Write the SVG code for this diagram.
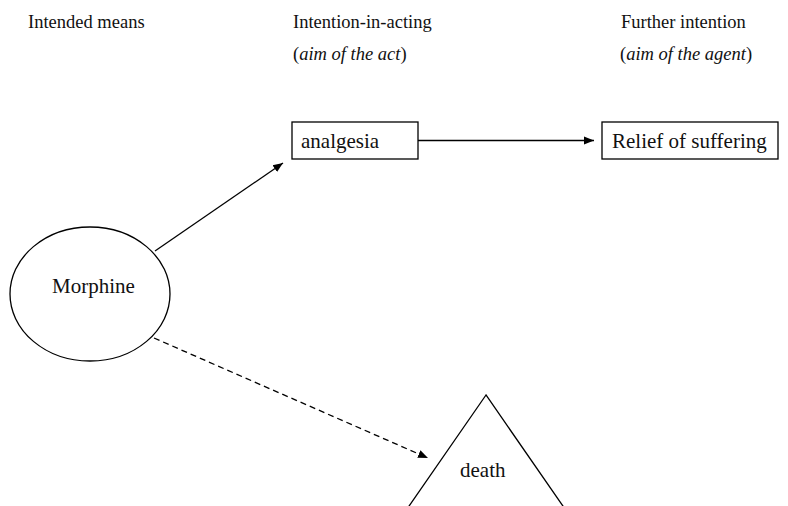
<svg xmlns="http://www.w3.org/2000/svg" width="788" height="506" viewBox="0 0 788 506">
<style>
.t{font-family:'Liberation Serif','Times New Roman','DejaVu Serif',serif;fill:#111}
.h{font-size:18.5px}
.n{font-size:21px}
.shape{fill:#fff;stroke:#000;stroke-width:1.3}
.conn{fill:none;stroke:#000;stroke-width:1.3}
.dash{stroke-dasharray:6 4}
</style>
<defs>
<marker id="arr" markerUnits="userSpaceOnUse" markerWidth="10" markerHeight="10" viewBox="0 0 10 10" refX="10" refY="5" orient="auto">
<path d="M0,1 L10,5 L0,9 Z" fill="#000"/>
</marker>
</defs>
<g id="headings" font-family="Liberation Serif, Times New Roman, serif">
<text class="t h" x="28" y="28">Intended means</text>
<text class="t h" x="293" y="28">Intention-in-acting</text>
<text class="t h" x="293" y="60">(<tspan font-style="italic">aim of the act</tspan>)</text>
<text class="t h" x="621" y="28">Further intention</text>
<text class="t h" x="620" y="60">(<tspan font-style="italic">aim of the agent</tspan>)</text>
</g>
<g id="connectors">
<line class="conn" x1="418" y1="140.5" x2="594" y2="140.5" marker-end="url(#arr)"/>
<line class="conn" x1="155" y1="251" x2="283" y2="163" marker-end="url(#arr)"/>
<line class="conn dash" x1="154" y1="338" x2="428" y2="458" marker-end="url(#arr)"/>
</g>
<g id="node-morphine" font-family="Liberation Serif, Times New Roman, serif">
<ellipse class="shape" cx="90" cy="294" rx="80" ry="67"/>
<text class="t n" x="52" y="293">Morphine</text>
</g>
<g id="node-analgesia" font-family="Liberation Serif, Times New Roman, serif">
<rect class="shape" x="292" y="122" width="126" height="37"/>
<text class="t n" x="301" y="148">analgesia</text>
</g>
<g id="node-relief" font-family="Liberation Serif, Times New Roman, serif">
<rect class="shape" x="602" y="122" width="176" height="37"/>
<text class="t n" x="612" y="148">Relief of suffering</text>
</g>
<g id="node-death" font-family="Liberation Serif, Times New Roman, serif">
<polygon class="shape" points="486,395 398,522 574,522"/>
<text class="t n" x="460" y="477">death</text>
</g>
</svg>
